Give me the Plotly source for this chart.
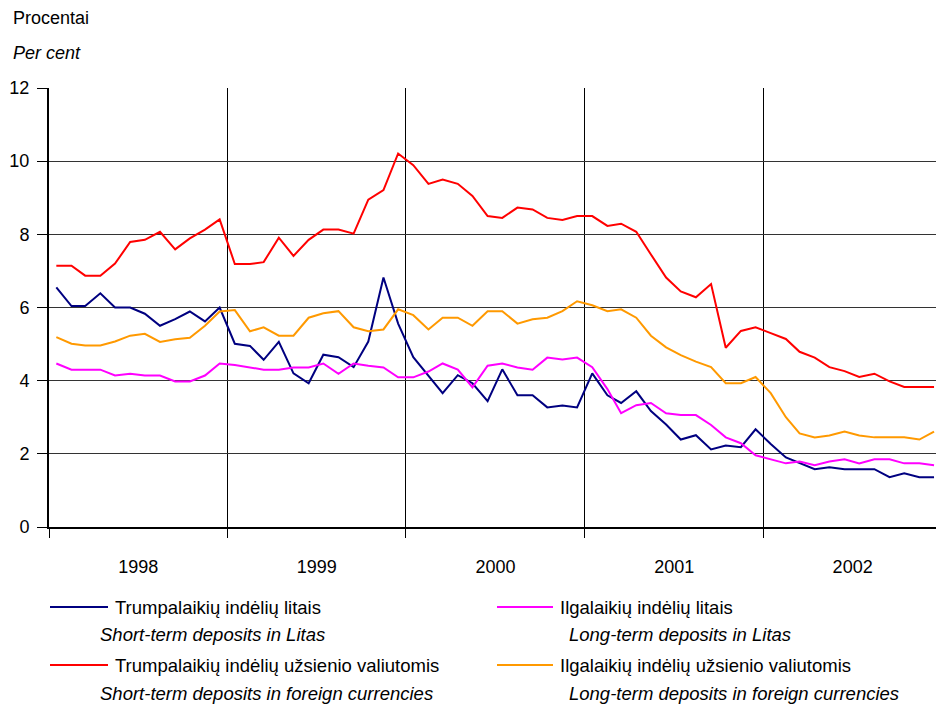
import pandas as pd
import plotly.graph_objects as go

# Monthly deposit interest rates, 1998-2002 (%)
months = pd.date_range('1998-01-01', periods=60, freq='MS') + pd.Timedelta(days=15)

short_litas = [
    6.55, 6.04, 6.04, 6.39, 6.00, 6.00, 5.83, 5.50, 5.68, 5.89, 5.62, 6.00,
    5.01, 4.95, 4.57, 5.06, 4.20, 3.93, 4.71, 4.64, 4.37, 5.07, 6.82, 5.56,
    4.64, 4.15, 3.66, 4.15, 3.93, 3.44, 4.31, 3.60, 3.60, 3.27, 3.32, 3.27,
    4.20, 3.60, 3.39, 3.71, 3.17, 2.80, 2.39, 2.51, 2.12, 2.23, 2.18, 2.67,
    2.27, 1.90, 1.74, 1.58, 1.63, 1.58, 1.58, 1.58, 1.36, 1.47, 1.36, 1.36,
]
long_litas = [
    4.47, 4.30, 4.30, 4.30, 4.14, 4.19, 4.14, 4.14, 3.98, 3.98, 4.14, 4.47,
    4.43, 4.37, 4.30, 4.30, 4.36, 4.36, 4.47, 4.19, 4.47, 4.41, 4.36, 4.09,
    4.09, 4.25, 4.47, 4.30, 3.82, 4.41, 4.47, 4.36, 4.30, 4.63, 4.58, 4.63,
    4.37, 3.77, 3.11, 3.33, 3.39, 3.11, 3.06, 3.06, 2.79, 2.45, 2.29, 1.96,
    1.84, 1.74, 1.79, 1.69, 1.79, 1.85, 1.74, 1.85, 1.85, 1.74, 1.74, 1.69,
]
short_foreign = [
    7.14, 7.14, 6.87, 6.87, 7.20, 7.79, 7.85, 8.07, 7.59, 7.89, 8.13, 8.41,
    7.19, 7.19, 7.24, 7.91, 7.41, 7.85, 8.13, 8.13, 8.02, 8.95, 9.21, 10.21,
    9.89, 9.38, 9.50, 9.38, 9.05, 8.50, 8.45, 8.73, 8.68, 8.45, 8.39, 8.50,
    8.50, 8.23, 8.29, 8.07, 7.45, 6.82, 6.44, 6.28, 6.64, 4.90, 5.36, 5.46,
    5.30, 5.14, 4.79, 4.63, 4.37, 4.26, 4.10, 4.19, 3.98, 3.83, 3.83, 3.83,
]
long_foreign = [
    5.19, 5.01, 4.96, 4.96, 5.07, 5.23, 5.28, 5.06, 5.13, 5.17, 5.50, 5.89,
    5.93, 5.35, 5.46, 5.23, 5.23, 5.72, 5.84, 5.90, 5.46, 5.35, 5.40, 5.95,
    5.79, 5.40, 5.72, 5.72, 5.50, 5.90, 5.90, 5.56, 5.68, 5.72, 5.90, 6.17,
    6.06, 5.90, 5.95, 5.72, 5.23, 4.91, 4.70, 4.52, 4.37, 3.93, 3.93, 4.10,
    3.66, 3.00, 2.56, 2.45, 2.50, 2.61, 2.50, 2.45, 2.45, 2.45, 2.39, 2.61,
]

names_lt = [
    'Trumpalaikių indėlių litais',
    'Ilgalaikių indėlių litais',
    'Trumpalaikių indėlių užsienio valiutomis',
    'Ilgalaikių indėlių užsienio valiutomis',
]
names_en = [
    'Short-term deposits in Litas',
    'Long-term deposits in Litas',
    'Short-term deposits in foreign currencies',
    'Long-term deposits in foreign currencies',
]
series = [short_litas, long_litas, short_foreign, long_foreign]
colors = ['#000080', '#FF00FF', '#FF0000', '#FF9900']

FONT = 'Liberation Sans, Arial, sans-serif'
W, H = 936, 709
L, T, B = 49, 88, 182
PW, PH = W - L, H - T - B


def px(x):
    return (x - L) / PW


def py(y):
    return (H - B - y) / PH


fig = go.Figure()
for vals, name, col in zip(series, names_lt, colors):
    fig.add_trace(go.Scatter(
        x=months, y=vals, name=name, mode='lines',
        line=dict(color=col, width=2), showlegend=False
    ))

# legend drawn by hand: 2 columns, two text lines per entry
leg_cols = [(50, 108, 113, 98), (497, 553, 558, 567)]
leg_rows = [(607, 634), (665, 693)]
shapes = []
annotations = []
for k in range(4):
    x0, x1, xt, xe = leg_cols[k % 2]
    y_lt, y_en = leg_rows[k // 2]
    shapes.append(dict(type='line', xref='paper', yref='paper',
                       x0=px(x0), x1=px(x1), y0=py(y_lt), y1=py(y_lt),
                       line=dict(color=colors[k], width=2)))
    annotations.append(dict(text=names_lt[k], x=px(xt), y=py(y_lt)))
    annotations.append(dict(text='<i>' + names_en[k] + '</i>', x=px(xe), y=py(y_en)))
for a in annotations:
    a['font'] = dict(family=FONT, size=18.5, color='black')

annotations.append(dict(text='Procentai', x=px(11), y=py(18),
                        font=dict(family=FONT, size=18, color='black')))
annotations.append(dict(text='<i>Per cent</i>', x=px(11), y=py(53),
                        font=dict(family=FONT, size=18, color='black')))
for a in annotations:
    a.update(xref='paper', yref='paper', xanchor='left', yanchor='middle',
             showarrow=False)

fig.update_layout(
    width=W, height=H,
    margin=dict(l=L, r=0, t=T, b=B),
    paper_bgcolor='white', plot_bgcolor='white',
    font=dict(family=FONT, size=18, color='black'),
    shapes=shapes, annotations=annotations,
)
fig.update_xaxes(
    type='date', range=['1998-01-01', '2002-12-20'],
    tick0='1998-01-01', dtick='M12', tickformat='%Y', ticklabelmode='period',
    ticks='outside', ticklen=9, tickcolor='black', ticklabelstandoff=13,
    showgrid=True, gridcolor='black', gridwidth=1,
    showline=True, linecolor='black', linewidth=2,
)
fig.update_yaxes(
    range=[0, 12], dtick=2,
    ticks='outside', ticklen=10, tickcolor='black', ticklabelstandoff=4,
    showgrid=True, gridcolor='#333333', gridwidth=1, zeroline=False,
    showline=True, linecolor='black', linewidth=2,
)

# page body has an 8px default margin; drop it so the chart fills the window
fig.write_html('out.html', config={'displayModeBar': False},
               post_script="document.body.style.margin = '0';")
